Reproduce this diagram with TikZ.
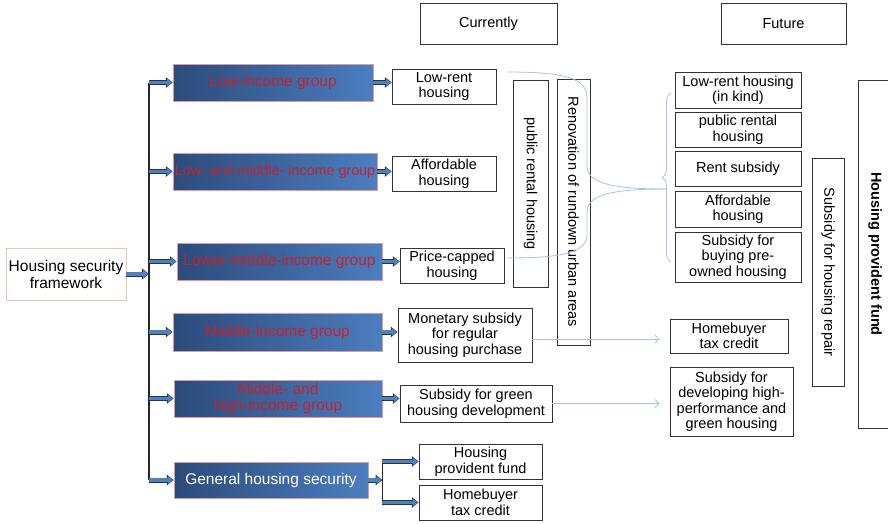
\documentclass[tikz,border=0pt]{standalone}
\usepackage{fontspec}
\setmainfont{Liberation Sans}
\usepackage{xcolor}
\usetikzlibrary{arrows.meta,positioning,calc,decorations.pathreplacing}

\definecolor{arrowblue}{HTML}{4F81BD}
\definecolor{arrowedge}{HTML}{24344F}
\definecolor{grpdark}{HTML}{2C4B7B}
\definecolor{grplight}{HTML}{4B7EC0}
\definecolor{grpedge}{HTML}{DE9AA2}
\definecolor{grptext}{HTML}{C4232B}
\definecolor{frameedge}{HTML}{EBC6AC}
\definecolor{linkblue}{HTML}{A6C2E4}

\tikzset{
  box/.style={draw=black!80, line width=0.9pt, fill=white, align=center, inner sep=1pt, font=\fontsize{14.5}{15.5}\selectfont},
  vbox/.style={draw=black!80, line width=0.9pt, align=center, inner sep=1pt, rotate=-90, font=\fontsize{14.5}{15.5}\selectfont},
  grp/.style={draw=grpedge, line width=0.9pt, left color=grpdark, right color=grplight, text=grptext, align=center, inner sep=1pt, font=\fontsize{15.5}{16}\selectfont},
  blockarrow/.style={draw=arrowblue, line width=3.2pt, -{Triangle[length=5pt, width=8pt, line width=0pt]}, shorten >=0.8pt,
    preaction={draw=arrowedge, line width=5pt, -{Triangle[length=6.8pt, width=10.8pt, line width=0pt]}, shorten >=0pt}},
  link/.style={draw=linkblue, line width=0.8pt},
}

\begin{document}
\begin{tikzpicture}[x=1pt, y=-1pt, >=latex, thick]
    \useasboundingbox (0,0) rectangle (888,523);
    \clip (0,0) rectangle (888,523);

    % headers
    \node [box, minimum width=137pt, minimum height=41pt] (now) at (488.5,23.5) {Currently};
    \node [box, minimum width=125pt, minimum height=41pt] (later) at (783.5,23.5) {Future};

    % framework and income groups
    \node [box, draw=frameedge, minimum width=120pt, minimum height=52pt, font=\fontsize{15.5}{17}\selectfont] (frame) at (66,274) {Housing security\\framework};
    \node [grp, minimum width=200pt, minimum height=37pt] (low) at (273,82.5) {Low-income group};
    \node [grp, minimum width=204pt, minimum height=37pt, font=\fontsize{14.3}{16}\selectfont] (lowmid) at (275,171.5) {Low- and middle- income group};
    \node [grp, minimum width=205pt, minimum height=37pt] (lowermid) at (279.5,261.5) {Lower-middle-income group};
    \node [grp, minimum width=209pt, minimum height=38pt] (mid) at (277.5,332) {Middle-income group};
    \node [grp, minimum width=208pt, minimum height=37pt] (midhigh) at (278,398.5) {Middle- and\\high-income group};
    \node [grp, text=white, minimum width=194pt, minimum height=36pt] (general) at (271,480) {General housing security};

    % current measures
    \node [box, minimum width=104pt, minimum height=35pt] (lowrent) at (444,86.5) {Low-rent\\housing};
    \node [box, minimum width=104pt, minimum height=35pt] (afford) at (444,173.5) {Affordable\\housing};
    \node [box, minimum width=104pt, minimum height=35pt] (capped) at (452,265.5) {Price-capped\\housing};
    \node [box, minimum width=134pt, minimum height=54pt] (monetary) at (465,335) {Monetary subsidy\\for regular\\housing purchase};
    \node [box, minimum width=152pt, minimum height=37pt] (green) at (476,403.5) {Subsidy for green\\housing development};
    \node [box, minimum width=123pt, minimum height=35pt] (fund) at (480.5,461.5) {Housing\\provident fund};
    \node [box, minimum width=123pt, minimum height=35pt] (credit) at (480.5,502.5) {Homebuyer\\tax credit};
    \node [vbox, minimum width=207pt, minimum height=35pt] (pubrent) at (530.5,183.5) {public rental housing};
    \node [vbox, minimum width=266pt, minimum height=33pt] (renov) at (573.5,212) {Renovation of rundown urban areas};

    % future measures
    \node [box, minimum width=126pt, minimum height=36pt] (inkind) at (738,90) {Low-rent housing\\(in kind)};
    \node [box, minimum width=126pt, minimum height=35pt] (pubrentf) at (738,129.5) {public rental\\housing};
    \node [box, minimum width=126pt, minimum height=35pt] (rentsub) at (738,168.5) {Rent subsidy};
    \node [box, minimum width=126pt, minimum height=36pt] (affordf) at (738,209) {Affordable\\housing};
    \node [box, minimum width=126pt, minimum height=50pt] (preowned) at (738,257) {Subsidy for\\buying pre-\\owned housing};
    \node [box, minimum width=118pt, minimum height=34pt] (creditf) at (729,336) {Homebuyer\\tax credit};
    \node [box, minimum width=123pt, minimum height=69pt] (highperf) at (731.5,401.5) {Subsidy for\\developing high-\\performance and\\green housing};
    \node [vbox, minimum width=228pt, minimum height=32pt] (repair) at (828,272) {Subsidy for housing repair};
    \node [vbox, minimum width=348pt, minimum height=33pt, font=\fontsize{14.5}{15.5}\selectfont\bfseries] (fundf) at (875,254) {Housing provident fund};

    % trunk and block arrows
    \coordinate (trunk) at (149,0);
    \draw [line width=1.1pt, black!85] (trunk |- low.west) -- (trunk |- general.west);
    \draw [blockarrow] (frame.east) -- (frame.east -| trunk);
    \foreach \g in {low,lowmid,lowermid,mid,midhigh,general}
        \draw [blockarrow] (trunk |- \g.west) -- (\g.west);

    \draw [blockarrow] (low.east) -- (low.east -| lowrent.west);
    \draw [blockarrow] (lowmid.east) -- (lowmid.east -| afford.west);
    \draw [blockarrow] (lowermid.east) -- (lowermid.east -| capped.west);
    \draw [blockarrow] (mid.east) -- (mid.east -| monetary.west);
    \draw [blockarrow] (midhigh.east) -- (midhigh.east -| green.west);

    \coordinate (split) at ($(general.east)+(14,0)$);
    \draw [blockarrow] (general.east) -- (split);
    \draw [line width=1.1pt, black!85] (split |- fund.west) -- (split |- credit.west);
    \draw [blockarrow] (split |- fund.west) -- (fund.west);
    \draw [blockarrow] (split |- credit.west) -- (credit.west);

    % links from current to future
    \coordinate (topstart) at (507,72);
    \coordinate (botstart) at (507,258);
    \coordinate (meet) at (666,189);
    \coordinate (bracetop) at (671,93);
    \coordinate (bracebot) at (671,262);
    \draw [link] (topstart) .. controls (565,72) and (587,78) .. (587,98) -- (587,166) .. controls (587,184) and (615,189) .. (meet);
    \draw [link] (botstart) .. controls (565,258) and (587,252) .. (587,234) -- (587,212) .. controls (587,194) and (615,189) .. (meet);
    \draw [link, decorate, decoration={brace, amplitude=9pt}] (bracebot) -- (bracetop);

    \draw [link, -{Straight Barb[length=4pt, width=8pt]}, shorten >=10pt] ([yshift=-4pt]monetary.east) -- ([yshift=-4pt]monetary.east -| creditf.west);
    \draw [link, -{Straight Barb[length=4pt, width=8pt]}, shorten >=10pt] (green.east) -- (green.east -| highperf.west);
\end{tikzpicture}
\end{document}
